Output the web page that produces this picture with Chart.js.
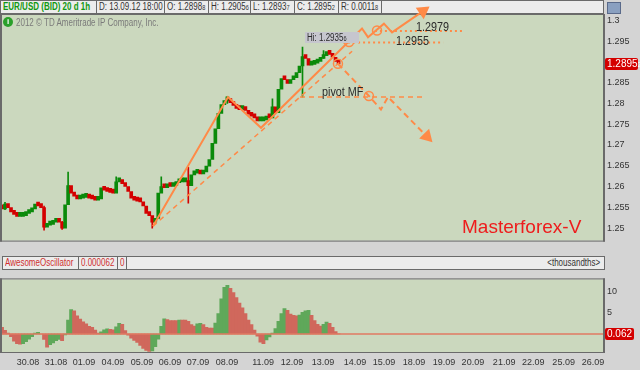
<!DOCTYPE html>
<html>
<head>
<meta charset="utf-8">
<script src="https://cdn.jsdelivr.net/npm/chart.js@4.4.0/dist/chart.umd.min.js"></script>
<style>
    body { margin: 0; width: 640px; height: 370px; background: #d4d4d4; position: relative; overflow: hidden;
           font-family: "Liberation Sans", Arial, sans-serif; }
    .abs { position: absolute; }
    .box { position: absolute; background: #ececec; border: 1px solid #6a6a6a; box-sizing: border-box; }
    .cell { position: absolute; top: 0; height: 12px; line-height: 12px; font-size: 10px; color: #333;
            border-right: 1px solid #6a6a6a; box-sizing: border-box; white-space: nowrap; overflow: hidden; padding-left: 2px; }
    .sq { display: inline-block; transform: scaleX(0.8); transform-origin: 0 50%; }
    .lbl { position: absolute; white-space: nowrap; font-size: 12px; color: #2a2a2a; line-height: 12px; }
    small { font-size: 7px; }
    canvas { position: absolute; left: 0; }
</style>
</head>
<body>
<!-- Шапка графика -->
<div class="box" style="left:0;top:0;width:604px;height:14px;">
    <div class="cell" style="left:0;width:96px;color:#119911;font-weight:bold;"><span class="sq">EUR/USD (BID) 20 d 1h</span></div>
    <div class="cell" style="left:96px;width:68px;"><span class="sq">D: 13.09.12 18:00</span></div>
    <div class="cell" style="left:164px;width:44px;"><span class="sq">O: 1.2898<small>8</small></span></div>
    <div class="cell" style="left:208px;width:42px;"><span class="sq">H: 1.2905<small>6</small></span></div>
    <div class="cell" style="left:250px;width:44px;"><span class="sq">L: 1.2893<small>7</small></span></div>
    <div class="cell" style="left:294px;width:44px;"><span class="sq">C: 1.2895<small>2</small></span></div>
    <div class="cell" style="left:338px;width:43px;"><span class="sq">R: 0.0011<small>8</small></span></div>
</div>
<div class="abs" style="left:607px;top:2px;width:12px;height:10px;background:#8aa0c0;border:1px solid #5a6a8a;"></div>

<!-- Шапка осциллятора -->
<div class="box" style="left:2px;top:256px;width:603px;height:14px;">
    <div class="cell" style="left:0;width:76px;color:#d03030;"><span class="sq">AwesomeOscillator</span></div>
    <div class="cell" style="left:76px;width:39px;color:#d03030;"><span class="sq">0.000062</span></div>
    <div class="cell" style="left:115px;width:9px;color:#d03030;"><span class="sq">0</span></div>
    <div class="abs" style="right:4px;top:0;height:12px;line-height:12px;font-size:10px;color:#333;"><span class="sq" style="transform-origin:100% 50%;">&lt;thousandths&gt;</span></div>
</div>

<canvas id="priceChart" width="640" height="250" style="top:0;"></canvas>
<canvas id="aoChart" width="640" height="100" style="top:270px;"></canvas>

<!-- Подписи на графике -->
<div class="abs" style="left:3px;top:17px;width:10px;height:10px;border-radius:50%;background:#2aa02a;color:#fff;font-size:8px;line-height:10px;text-align:center;font-weight:bold;">i</div>
<div class="lbl" style="left:16px;top:17px;font-size:10px;color:#7a7a7a;"><span class="sq">2012 © TD Ameritrade IP Company, Inc.</span></div>
<div class="lbl" style="left:305px;top:32px;height:11px;line-height:11px;background:#c6c6ce;font-size:10px;padding:0 2px;"><span class="sq">Hi: 1.2935<small>6</small></span></div>
<div class="lbl" style="left:322px;top:86px;"><span class="sq" style="transform:scaleX(0.9)">pivot MF</span></div>
<div class="lbl" style="left:416px;top:21px;"><span class="sq" style="transform:scaleX(0.9)">1.2979</span></div>
<div class="lbl" style="left:396px;top:35px;"><span class="sq" style="transform:scaleX(0.9)">1.2955</span></div>
<div class="lbl" style="left:462px;top:216px;font-size:19px;line-height:22px;color:#ee1c1c;">Masterforex-V</div>

<script>
// Данные: закрытия часовых свечей (одна позиция = один слот по оси X)
const firstOpen = 1.2550;
const closes = [
    1.2546, 1.2558, 1.2549, 1.2539, 1.2533, 1.2528, 1.2528, 1.2530, 1.2535, 1.2539,
    1.2546, 1.2558, 1.2553, 1.2549, 1.2502, 1.2507, 1.2509, 1.2514, 1.2516, 1.2514,
    1.2500, 1.2556, 1.2602, 1.2584, 1.2577, 1.2570, 1.2572, 1.2574, 1.2577, 1.2572,
    1.2570, 1.2567, 1.2570, 1.2597, 1.2591, 1.2588, 1.2586, 1.2584, 1.2611, 1.2611,
    1.2607, 1.2600, 1.2588, 1.2572, 1.2567, 1.2565, 1.2563, 1.2553, 1.2535, 1.2530,
    1.2514, 1.2523, 1.2584, 1.2600, 1.2597, 1.2602, 1.2600, 1.2602, 1.2609, 1.2611,
    1.2611, 1.2614, 1.2602, 1.2628, 1.2632, 1.2632, 1.2630, 1.2635, 1.2649, 1.2665,
    1.2704, 1.2739, 1.2776, 1.2797, 1.2806, 1.2811, 1.2802, 1.2795, 1.2788, 1.2785,
    1.2788, 1.2783, 1.2774, 1.2769, 1.2765, 1.2758, 1.2758, 1.2760, 1.2769, 1.2765,
    1.2792, 1.2778, 1.2834, 1.2860, 1.2857, 1.2848, 1.2857, 1.2862, 1.2874, 1.2890,
    1.2913, 1.2908, 1.2892, 1.2894, 1.2897, 1.2901, 1.2908, 1.2915, 1.2920, 1.2918,
    1.2911, 1.2901, 1.2895
];

// Длинные тени отдельных свечей
const wickSlots = [1, 14, 20, 22, 38, 50, 53, 62, 75, 90, 100, 107];
const wickHigh  = [1.2562, 1.2553, 1.2516, 1.2635, 1.2623, 1.2523, 1.2623, 1.2646, 1.2816, 1.2811, 1.29356, 1.2927];
const wickLow   = [1.2544, 1.2495, 1.2497, 1.2560, 1.2600, 1.2500, 1.2585, 1.2560, 1.2800, 1.2770, 1.2815, 1.2908];

// Awesome Oscillator, тысячные доли
const aoValues = [
    1.6, 0.85, 0.2, -0.6, -1.7, -2.3, -2.4, -2.3, -1.8, -1.2,
    -0.6, 0.2, 0.4, 0.0, -1.3, -3.1, -2.5, -2.1, -1.6, -1.3,
    -1.6, -0.2, 3.3, 5.8, 5.5, 4.3, 3.5, 2.9, 2.4, 1.8,
    1.6, 0.9, 0.2, 0.5, 1.0, 1.2, 1.1, 1.0, 1.7, 2.5,
    2.3, 0.8, -0.3, -1.0, -1.5, -2.0, -2.7, -3.4, -3.9, -4.1,
    -4.0, -3.0, -1.2, 1.8, 3.6, 3.4, 3.2, 3.2, 3.2, 3.3,
    3.3, 3.3, 3.0, 2.2, 1.9, 2.4, 2.5, 2.2, 1.6, 1.4,
    1.4, 2.6, 4.8, 8.3, 11.0, 11.5, 10.8, 9.8, 8.6, 7.3,
    6.2, 4.8, 3.3, 2.2, 0.9, -0.5, -1.9, -2.3, -1.4, -0.7,
    0.2, 1.3, 3.0, 4.8, 6.0, 5.6, 4.7, 4.4, 4.3, 4.5,
    5.1, 5.5, 5.6, 4.4, 3.2, 2.3, 1.9, 2.3, 2.8, 2.5,
    1.6, 0.6, 0.06
];

// Ось X: позиции дат (в слотах) и подписи
const dateSlots = [8.65, 18, 27.3, 36.9, 46.6, 55.9, 65.2, 74.9, 86.9, 96.5,
                   106.8, 117.5, 127.1, 137.1, 147.1, 156.7, 167.1, 176.8, 186.9, 196.7];
const dateLabels = ['30.08', '31.08', '01.09', '04.09', '05.09', '06.09', '07.09', '08.09', '11.09', '12.09',
                    '13.09', '14.09', '15.09', '18.09', '19.09', '20.09', '21.09', '22.09', '25.09', '26.09'];
const priceTicks = [1.25, 1.255, 1.26, 1.265, 1.27, 1.275, 1.28, 1.285, 1.29, 1.295, 1.3];
const aoTicks = [5, 10];

// Разметка Masterforex-V: точки [слот, цена]
const impulseLine  = [[50.25, 1.25046], [75.21, 1.28155], [86.19, 1.27413], [119.8, 1.29803],
                      [121.8, 1.29594], [127.1, 1.29919], [129.8, 1.29710], [140.1, 1.30220]];
const channelLine  = [[50.25, 1.25046], [116.5, 1.29255]];
const pivotLine    = [[99.17, 1.28155], [140.77, 1.28155]];
const downPath     = [[111.8, 1.28956], [122.1, 1.28179], [126.1, 1.27854], [128.45, 1.28155], [141.4, 1.27204]];
const level2955    = [[113.5, 1.29466], [146.8, 1.29466]];
const level2979    = [[124.1, 1.29745], [153.1, 1.29745]];
const circlePoints = [[115.5, 1.29480], [124.8, 1.29756], [111.8, 1.28956], [122.1, 1.28179]];

const ORANGE = '#ff8a47';
const GREEN = '#0a8a0a';
const RED = '#d40000';

const opens = closes.map((c, i) => i === 0 ? firstOpen : closes[i - 1]);
const toXY = arr => arr.map(p => ({ x: p[0], y: p[1] }));

// Фон области графика и рамка
const plotBg = {
    id: 'plotBg',
    beforeDraw(chart) {
        const { ctx, chartArea: a } = chart;
        ctx.save();
        ctx.fillStyle = '#cbd8be';
        ctx.fillRect(a.left, a.top, a.right - a.left, a.bottom - a.top);
        ctx.fillStyle = '#6a6a6a';
        ctx.fillRect(a.left - 2, a.top - 1, 2, a.bottom - a.top + 2);
        ctx.fillRect(a.right, a.top - 1, 2, a.bottom - a.top + 2);
        ctx.fillRect(a.left - 2, a.bottom, a.right - a.left + 4, 1);
        ctx.fillRect(a.left - 2, a.top - 1, a.right - a.left + 4, 1);
        ctx.restore();
    }
};

// Красная метка текущего значения на правой оси
const valueTag = {
    id: 'valueTag',
    afterDraw(chart, args, opts) {
        if (!opts || opts.value === undefined) return;
        const { ctx } = chart;
        const y = Math.round(chart.scales.y.getPixelForValue(opts.value));
        const x = chart.chartArea.right + 2;
        ctx.save();
        ctx.fillStyle = '#d40000';
        ctx.beginPath();
        ctx.roundRect(x, y - 6, opts.width, 12, 2);
        ctx.fill();
        ctx.fillStyle = '#fff';
        ctx.font = '10px "Liberation Sans", Arial';
        ctx.textBaseline = 'middle';
        ctx.fillText(opts.text, x + 2, y);
        if (opts.small) {
            const w = ctx.measureText(opts.text).width;
            ctx.font = '7px "Liberation Sans", Arial';
            ctx.fillText(opts.small, x + 2 + w, y + 1);
        }
        ctx.restore();
    }
};

document.addEventListener('DOMContentLoaded', () => {
    Chart.defaults.font.family = '"Liberation Sans", Arial, sans-serif';
    Chart.defaults.animation = false;

    const lineDs = (points, extra) => Object.assign({
        type: 'line',
        data: toXY(points),
        borderColor: ORANGE,
        borderWidth: 2,
        pointRadius: 0,
        tension: 0,
        fill: false,
        clip: false,
        order: 1
    }, extra);

    const impulseRadius = impulseLine.map((p, i) => i === impulseLine.length - 1 ? 6 : 0);
    const downRadius = downPath.map((p, i) => i === downPath.length - 1 ? 6 : 0);

    new Chart(document.getElementById('priceChart'), {
        type: 'bar',
        data: {
            datasets: [
                {
                    // Тела свечей
                    data: closes.map((c, i) => ({ x: i, y: [opens[i], c] })),
                    backgroundColor: closes.map((c, i) => c >= opens[i] ? GREEN : RED),
                    barThickness: 3,
                    minBarLength: 4,
                    grouped: false,
                    order: 10
                },
                {
                    // Тени
                    data: wickSlots.map((s, i) => ({ x: s, y: [wickLow[i], wickHigh[i]] })),
                    backgroundColor: wickSlots.map(s => closes[s] >= opens[s] ? GREEN : RED),
                    barThickness: 1,
                    grouped: false,
                    order: 11
                },
                lineDs(impulseLine, {
                    pointRadius: impulseRadius,
                    pointStyle: 'triangle',
                    pointRotation: 55,
                    pointBackgroundColor: ORANGE,
                    pointBorderColor: ORANGE
                }),
                lineDs(channelLine, { borderWidth: 1.5, borderDash: [5, 4] }),
                lineDs(pivotLine, { borderWidth: 1.5, borderDash: [5, 4] }),
                lineDs(downPath, {
                    borderDash: [6, 4],
                    pointRadius: downRadius,
                    pointStyle: 'triangle',
                    pointRotation: 136,
                    pointBackgroundColor: ORANGE,
                    pointBorderColor: ORANGE
                }),
                lineDs(level2955, { borderWidth: 2, borderDash: [2, 3] }),
                lineDs(level2979, { borderWidth: 2, borderDash: [2, 3] }),
                lineDs(circlePoints, {
                    showLine: false,
                    pointRadius: 4.5,
                    pointStyle: 'circle',
                    pointBorderWidth: 1.5,
                    pointBorderColor: ORANGE,
                    pointBackgroundColor: 'rgba(0,0,0,0)'
                })
            ]
        },
        options: {
            responsive: false,
            layout: { autoPadding: false, padding: { left: 2, top: 15, right: 0, bottom: 1 } },
            plugins: {
                legend: { display: false },
                tooltip: { enabled: false },
                valueTag: { value: 1.28952, text: '1.2895', small: '2', width: 33 }
            },
            scales: {
                x: { type: 'linear', min: 0, max: 200, offset: false, display: false },
                y: {
                    position: 'right',
                    min: 1.24698,
                    max: 1.30128,
                    afterBuildTicks: s => { s.ticks = priceTicks.map(v => ({ value: v })); },
                    afterFit: s => { s.width = 37; },
                    grid: { display: false, drawTicks: false },
                    border: { display: false },
                    ticks: {
                        padding: 4,
                        color: '#333',
                        font: { size: 9 },
                        callback: v => String(+v.toFixed(3))
                    }
                }
            }
        },
        plugins: [plotBg, valueTag]
    });

    // Цвет столбика AO: зелёный при росте, красный при падении
    const aoColors = aoValues.map((v, i) => i > 0 && v > aoValues[i - 1] ? '#5fa85a' : '#d0685c');

    new Chart(document.getElementById('aoChart'), {
        type: 'bar',
        data: {
            datasets: [
                {
                    data: aoValues.map((v, i) => ({ x: i, y: v })),
                    backgroundColor: aoColors,
                    barThickness: 3.2,
                    grouped: false,
                    order: 2
                },
                {
                    type: 'line',
                    data: [{ x: 0, y: 0 }, { x: 200, y: 0 }],
                    borderColor: '#e07a62',
                    borderWidth: 1.5,
                    pointRadius: 0,
                    order: 1
                }
            ]
        },
        options: {
            responsive: false,
            layout: { autoPadding: false, padding: { left: 2, top: 2, right: 0, bottom: 0 } },
            plugins: {
                legend: { display: false },
                tooltip: { enabled: false },
                valueTag: { value: 0.062, text: '0.062', width: 29 }
            },
            scales: {
                x: {
                    type: 'linear',
                    min: 0,
                    max: 200,
                    offset: false,
                    afterBuildTicks: s => { s.ticks = dateSlots.map(v => ({ value: v })); },
                    afterFit: s => { s.height = 18; },
                    grid: { display: false, drawTicks: false },
                    border: { display: false },
                    ticks: {
                        padding: 5,
                        color: '#333',
                        maxRotation: 0,
                        autoSkip: false,
                        font: { size: 9 },
                        callback: (v, i) => dateLabels[i]
                    }
                },
                y: {
                    position: 'right',
                    min: -4.25,
                    max: 12.9,
                    afterBuildTicks: s => { s.ticks = aoTicks.map(v => ({ value: v })); },
                    afterFit: s => { s.width = 37; },
                    grid: { display: false, drawTicks: false },
                    border: { display: false },
                    ticks: { padding: 4, color: '#333', font: { size: 9 } }
                }
            }
        },
        plugins: [plotBg, valueTag]
    });
});
</script>
</body>
</html>
